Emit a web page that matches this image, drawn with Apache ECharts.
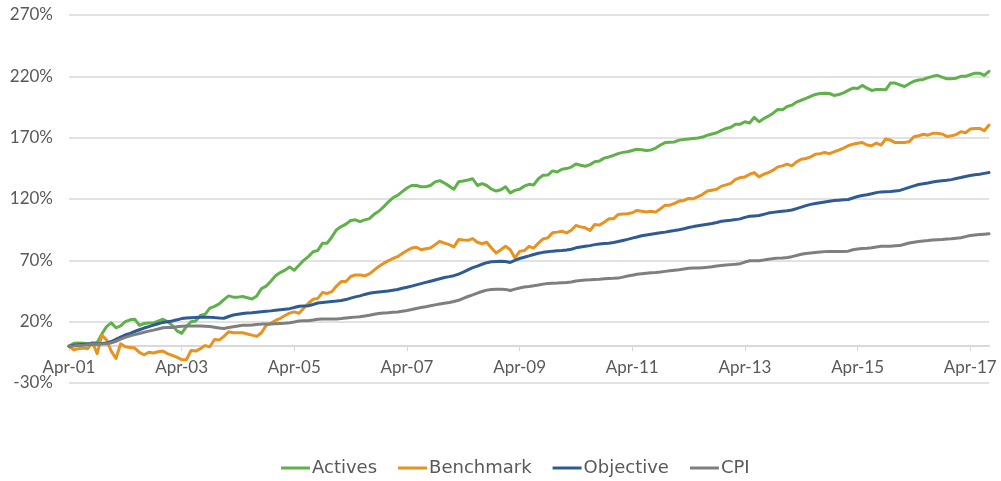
<!DOCTYPE html>
<html>
<head>
<meta charset="utf-8">
<title>Actives vs Benchmark</title>
<script src="https://cdn.jsdelivr.net/npm/echarts@6/dist/echarts.min.js"></script>
<style>
  html, body { margin: 0; padding: 0; background: #fff; }
  #chart { width: 1001px; height: 481px; }
</style>
</head>
<body>
<div id="chart"></div>
<script>
  // monthly, Apr-01 .. Aug-17
  const monthNames = ['Jan', 'Feb', 'Mar', 'Apr', 'May', 'Jun', 'Jul', 'Aug', 'Sep', 'Oct', 'Nov', 'Dec']
  const categories = []
  for (let i = 0; i < 197; i++) {
    const m = (3 + i) % 12
    const y = 1 + Math.floor((3 + i) / 12)
    categories.push(monthNames[m] + '-' + String(y).padStart(2, '0'))
  }

  const seriesNames = ['Actives', 'Benchmark', 'Objective', 'CPI']

  const actives = [
    0, 2.5, 2.7, 2.5, 2, 2.5, 3, 10, 16, 19, 15, 16.5,
    20, 21.5, 22, 17, 18.5, 19, 19, 20.5, 22, 20, 17, 12.5,
    10.5, 16, 20, 20.5, 25, 26, 31, 32.5, 34.5, 38, 41, 40,
    40, 40.5, 39.5, 38.5, 41, 47, 49, 53, 57.5, 60, 62, 64.5,
    62, 66, 70, 73, 77, 78, 84, 84, 89, 95, 97.5, 99.5,
    102.5, 103, 101.5, 103, 104, 107.5, 110, 113.5, 117.5, 121, 123, 126,
    129, 131, 131, 130, 130, 131, 134, 135, 133, 130.5, 128, 134,
    134.7, 135.5, 136.5, 131, 132.6, 131, 128, 126.5, 127.5, 130, 125, 127,
    128, 130.5, 132, 131.5, 136.5, 139.3, 139.5, 142.9, 142, 144.3, 144.8, 146,
    148.5, 147.5, 146.7, 148, 150.3, 151, 153.3, 154.3, 155.5, 157, 158, 158.5,
    159.5, 160.5, 160.2, 159.5, 160, 161.5, 164, 166, 166.3, 166.5, 168, 168.5,
    169, 169.4, 169.7, 170.5, 172, 173, 174, 176, 177.5, 178.5, 181, 181,
    183, 182, 186.6, 183, 185.5, 187.5, 190, 193, 192.8, 195.4, 196.5, 199,
    200.5, 202, 203.6, 205.2, 206, 206.3, 206, 204.4, 205.2, 206.5, 208.5, 210.4,
    210, 212.6, 210.4, 208.5, 209.3, 209.3, 209, 214.5, 214.5, 213, 211.7, 214,
    216, 217, 217.5, 218.9, 220, 220.8, 219.4, 218, 218, 218.5, 220, 220,
    221.3, 222.6, 222.6, 220.8, 224
  ]

  const benchmark = [
    0, -3, -2, -1.5, -2, 3, -6, 9, 5, -4, -10, 2,
    -0.5, -1, -1.5, -5, -7, -5, -5.5, -4.5, -4, -6, -7.5, -9,
    -11, -11, -3.5, -4, -2, 0.5, -0.5, 5.5, 5, 8, 11.7, 11,
    11, 11, 10, 9, 8, 11, 17, 18.6, 21, 22.7, 25, 27,
    28, 26.8, 31, 35, 38.2, 39, 43.7, 43, 44.5, 49, 52.7, 52.7,
    56.8, 58, 58, 57.4, 59, 62, 65, 67.5, 69.6, 71.5, 73, 75.5,
    78, 80, 80.7, 78.7, 79.5, 80, 82.8, 85.5, 84, 82.8, 81, 86.9,
    86.5, 86.3, 87.7, 84.7, 83.5, 84.7, 80, 76, 78.7, 81.4, 78.7, 71.9,
    77.3, 78, 81.4, 80, 84, 87.4, 88.3, 92.4, 93, 93.7, 92.4, 94.5,
    98.4, 97.3, 96.5, 94.3, 99.2, 98.7, 101, 103.8, 103.8, 107.4, 107.8, 108,
    108.8, 110.7, 110, 109.4, 110, 109.3, 112, 115, 115, 116.5, 118.3, 118.8,
    120.5, 120.2, 122, 123.8, 126.5, 127.2, 127.9, 130.5, 131.5, 132.8, 136, 137.5,
    138, 140.2, 141.5, 138, 140.2, 141.5, 143.5, 146.2, 147, 148.4, 147, 150.3,
    152.4, 153, 154.3, 156.5, 157, 157.9, 157, 158.5, 159.8, 161.5, 163.4, 164.7,
    165.5, 166.1, 164, 163.4, 165.6, 164, 168.9, 168, 166, 166.1, 166.1, 166.7,
    170.7, 171.5, 172.8, 172, 173.5, 173.5, 173, 171, 171.5, 172.5, 174.9, 174,
    177, 177.5, 177.5, 175.7, 180.3
  ]

  const objective = [
    0, 0.8, 1.2, 1.5, 1.8, 2, 2, 2.2, 2.7, 3.8, 5.5, 7.5,
    9.2, 10.5, 12, 13.4, 14.8, 16, 17.2, 18.3, 19.4, 20, 20.6, 21.5,
    22.5, 23, 23.2, 23.4, 23.5, 23.6, 23.5, 23.3, 22.9, 22.8, 24.2, 25.4,
    26, 26.6, 27, 27.2, 27.6, 28, 28.4, 28.8, 29.3, 29.8, 30.2, 30.6,
    31.5, 32.6, 32.8, 33, 34, 35.2, 35.7, 36.1, 36.5, 36.8, 37.3, 38,
    39.2, 40.2, 41, 42.2, 43.1, 43.7, 44.2, 44.6, 45, 45.6, 46.2, 47.2,
    48, 49, 50, 51, 52, 53, 54, 55, 56, 56.7, 57.5, 58.8,
    60.4, 62.2, 64, 65.3, 66.8, 68.1, 68.8, 69.1, 69.2, 69, 68.3, 70,
    71.5, 72.5, 73.6, 74.8, 75.8, 76.5, 77, 77.5, 77.8, 78.1, 78.5, 79,
    80.2, 80.9, 81.5, 82, 82.8, 83.4, 83.7, 84, 84.6, 85.3, 86.2, 87.1,
    88.1, 89, 90, 90.6, 91.2, 91.8, 92.4, 93, 93.7, 94.3, 95, 95.8,
    96.7, 97.5, 98.2, 98.8, 99.4, 100.1, 100.9, 101.8, 102.3, 102.7, 103.2, 103.8,
    105, 105.9, 106.2, 106.5, 107.5, 108.5, 109.1, 109.6, 110, 110.4, 111, 112.2,
    113.4, 114.6, 115.6, 116.3, 117, 117.6, 118.2, 118.7, 119, 119.3, 119.6, 120.8,
    122, 122.8, 123.5, 124.3, 125.2, 125.8, 126, 126.2, 126.6, 127, 128.2, 129.5,
    130.7, 131.8, 132.5, 133.1, 133.8, 134.4, 134.9, 135.3, 135.8, 136.7, 137.5, 138.4,
    139.2, 139.7, 140.2, 140.9, 141.6
  ]

  const cpi = [
    0, 0.2, 0.5, 0.8, 1.2, 1.4, 1.6, 1.8, 2, 2.8, 4, 5.8,
    7.2, 8.4, 9.4, 10.4, 11.4, 12.3, 13.1, 14, 15, 15.2, 15.3, 15.8,
    16.3, 16.5, 16.4, 16.4, 16.4, 16.2, 16, 15.4, 14.8, 14.5, 15.2, 15.8,
    16.4, 17, 17.1, 17.2, 17.6, 18, 18, 18, 18.3, 18.6, 18.8, 19.2,
    19.8, 20.5, 20.7, 20.7, 21.3, 22, 22.1, 22.1, 22.1, 22.2, 22.5, 23,
    23.4, 23.7, 24, 24.7, 25.3, 26, 26.7, 27, 27.2, 27.6, 27.9, 28.5,
    29.1, 29.9, 30.8, 31.6, 32.2, 32.9, 33.7, 34.4, 35, 35.6, 36.5, 37.4,
    39, 40.5, 41.8, 43.2, 44.6, 45.7, 46.3, 46.5, 46.5, 46.3, 45.4, 46.5,
    47.5, 48.2, 48.7, 49.3, 49.9, 50.6, 51.2, 51.4, 51.5, 51.7, 51.9, 52.4,
    53.2, 53.6, 53.9, 54.1, 54.4, 54.6, 54.9, 55.2, 55.3, 55.5, 56.3, 57.2,
    57.9, 58.6, 59, 59.4, 59.8, 60.1, 60.5, 61, 61.5, 61.9, 62.3, 62.9,
    63.5, 63.7, 63.7, 64, 64.3, 64.8, 65.4, 65.8, 66.2, 66.5, 66.8, 67.3,
    68.6, 69.6, 69.6, 69.7, 70.2, 70.8, 71.4, 71.8, 72, 72.3, 73, 74,
    75, 75.6, 76, 76.4, 76.8, 77.1, 77.3, 77.3, 77.3, 77.3, 77.5, 78.6,
    79.3, 79.6, 79.9, 80.3, 80.9, 81.4, 81.4, 81.5, 81.8, 82, 83.1, 84.1,
    84.8, 85.4, 85.8, 86.1, 86.5, 86.8, 87, 87.3, 87.6, 88, 88.4, 89.3,
    90.2, 90.6, 91, 91.3, 91.6
  ]

  const colors = ['#5fb14a', '#e8921f', '#2f5b95', '#7f7f7f']
  const font = 'Lato'
  const textColor = '#595959'
  const gridColor = '#d9d9d9'

  const chart = echarts.init(document.getElementById('chart'), null, { renderer: 'canvas' })

  const makeLine = (name, data, color) => ({
    name,
    type: 'line',
    data,
    showSymbol: false,
    symbol: 'none',
    smooth: false,
    lineStyle: { color, width: 3, cap: 'round', join: 'round' },
    itemStyle: { color },
    emphasis: { disabled: true }
  })

  chart.setOption({
    animation: false,
    color: colors,
    grid: {
      left: 69,
      right: 12,
      top: 15,
      bottom: 98,
      containLabel: false
    },
    legend: {
      data: seriesNames,
      bottom: 4,
      left: 281,
      padding: 0,
      icon: 'rect',
      itemWidth: 29,
      itemHeight: 3,
      itemGap: 21,
      textStyle: {
        fontFamily: 'DejaVu Sans',
        fontSize: 18,
        color: textColor,
        padding: [0, 0, 0, -3]
      }
    },
    xAxis: {
      type: 'category',
      data: categories,
      boundaryGap: false,
      axisLine: {
        onZero: true,
        lineStyle: { color: gridColor, width: 2 }
      },
      axisTick: {
        show: true,
        interval: 23,
        length: 5,
        lineStyle: { color: gridColor, width: 1 }
      },
      axisLabel: {
        interval: 23,
        margin: -24,
        fontFamily: font,
        fontSize: 17,
        color: textColor
      },
      splitLine: { show: false }
    },
    yAxis: {
      type: 'value',
      min: -30,
      max: 270,
      interval: 50,
      axisLine: { show: false },
      axisTick: { show: false },
      axisLabel: {
        formatter: '{value}%',
        margin: 16,
        fontFamily: font,
        fontSize: 17,
        color: textColor
      },
      splitLine: {
        lineStyle: { color: gridColor, width: 1.5 }
      }
    },
    series: [
      makeLine('Actives', actives, colors[0]),
      makeLine('Benchmark', benchmark, colors[1]),
      makeLine('Objective', objective, colors[2]),
      makeLine('CPI', cpi, colors[3])
    ]
  })
</script>
</body>
</html>
